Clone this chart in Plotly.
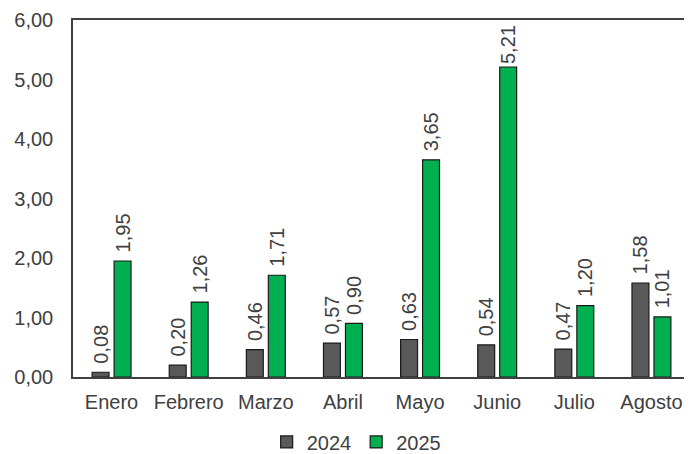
import plotly.graph_objects as go

months = ["Enero", "Febrero", "Marzo", "Abril", "Mayo", "Junio", "Julio", "Agosto"]
v2024 = [0.08, 0.20, 0.46, 0.57, 0.63, 0.54, 0.47, 1.58]
v2025 = [1.95, 1.26, 1.71, 0.90, 3.65, 5.21, 1.20, 1.01]
yticks = [0, 1, 2, 3, 4, 5, 6]

font = "Liberation Sans, Arial, sans-serif"
txtcol = "#404040"
NB = "\u00a0"


def label(v):
    s = f"{v:.2f}".replace(".", ",")
    # labels near the top of the axis sit closer to the bar (kept inside the frame)
    return s if v > 5 else NB + s


fig = go.Figure()
for name, vals, col in [("2024", v2024, "#595959"), ("2025", v2025, "#00B050")]:
    fig.add_trace(go.Bar(
        x=months, y=vals, name=name,
        marker=dict(color=col, line=dict(color="#1a1a1a", width=1.2)),
        text=[label(v) for v in vals],
        textposition="outside", textangle=-90, constraintext="none",
        cliponaxis=False,
        textfont=dict(family=font, size=20, color=txtcol),
    ))

# the page body has an 8px margin, so the figure is 8px smaller than the window
fig.update_layout(
    width=684, height=446,
    margin=dict(l=65, r=2, t=12, b=77, autoexpand=False),
    paper_bgcolor="white", plot_bgcolor="white",
    barmode="group", bargap=0.43, bargroupgap=0.23,
    separators=",.",
    font=dict(family=font, size=20, color=txtcol),
    showlegend=True,
    legend=dict(orientation="h", xref="container", yref="container",
                x=0.509, xanchor="center", y=0.027, yanchor="middle",
                font=dict(family=font, size=20, color=txtcol),
                itemwidth=30, traceorder="normal"),
)
fig.update_xaxes(showline=True, mirror=True, linecolor="#404040", linewidth=1.5,
                 ticks="", showgrid=False, tickfont=dict(size=20), tickangle=0,
                 ticklabelstandoff=6, automargin=False)
fig.update_yaxes(range=[0, 6], tickvals=yticks, tickformat=".2f",
                 showline=True, mirror=True, linecolor="#404040", linewidth=1.5,
                 ticks="", showgrid=False, zeroline=False,
                 tickfont=dict(size=20), ticklabelstandoff=14, automargin=False)

fig.write_html("out.html")
